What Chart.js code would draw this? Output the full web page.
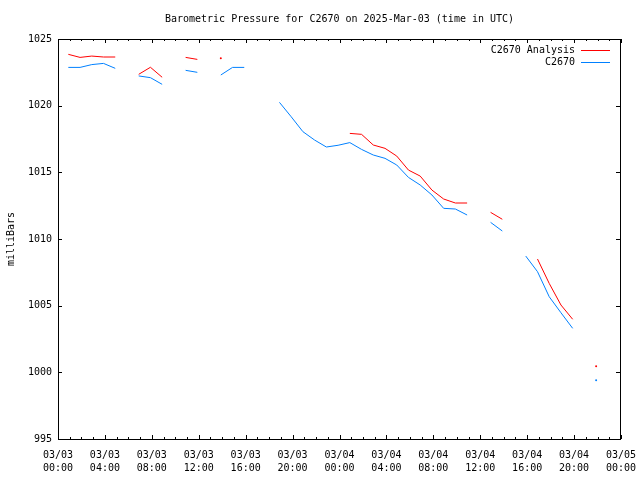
<!DOCTYPE html>
<html>
<head>
<meta charset="utf-8">
<title>Barometric Pressure C2670</title>
<script src="https://cdn.jsdelivr.net/npm/chart.js@4.4.1/dist/chart.umd.min.js"></script>
<style>
    html, body { margin: 0; padding: 0; background: #ffffff; }
    #wrap { width: 640px; height: 480px; }
</style>
</head>
<body>
<div id="wrap"><canvas id="chartPresion" width="640" height="480"></canvas></div>
<script>
// hours since 03/03 00:00 UTC (obs at hh:53)
const hours = [
    0.88, 1.88, 2.88, 3.88, 4.88, 5.88, 6.88, 7.88, 8.88, 9.88,
    10.88, 11.88, 12.88, 13.88, 14.88, 15.88, 16.88, 17.88, 18.88, 19.88,
    20.88, 21.88, 22.88, 23.88, 24.88, 25.88, 26.88, 27.88, 28.88, 29.88,
    30.88, 31.88, 32.88, 33.88, 34.88, 35.88, 36.88, 37.88, 38.88, 39.88,
    40.88, 41.88, 42.88, 43.88, 44.88, 45.88
];

const analysis = [
    1023.85, 1023.62, 1023.72, 1023.65, 1023.65, null, 1022.35, 1022.88, 1022.13, null,
    1023.62, 1023.47, null, 1023.55, null, null, null, null, null, null,
    null, null, null, null, 1017.92, 1017.85, 1017.05, 1016.8, 1016.22, 1015.17,
    1014.72, 1013.67, 1013.0, 1012.7, 1012.7, null, 1012.0, 1011.48, null, null,
    1008.5, 1006.67, 1005.05, 1003.98, null, 1000.45
];

const observed = [
    1022.87, 1022.87, 1023.08, 1023.17, 1022.8, null, 1022.23, 1022.1, 1021.6, null,
    1022.65, 1022.5, null, 1022.3, 1022.87, 1022.87, null, null, 1020.25, 1019.17,
    1018.05, 1017.42, 1016.9, 1017.03, 1017.23, 1016.72, 1016.3, 1016.05, 1015.55, 1014.62,
    1014.05, 1013.3, 1012.3, 1012.25, 1011.8, null, 1011.25, 1010.6, null, 1008.72,
    1007.55, 1005.67, 1004.47, 1003.3, null, 999.4
];

const xTicks = [0, 4, 8, 12, 16, 20, 24, 28, 32, 36, 40, 44, 48];
const yTicks = [995, 1000, 1005, 1010, 1015, 1020, 1025];

const FONT = 'DejaVu Sans Mono';
const RED = '#ff0000';
const BLUE = '#0080ff';

const toPoints = vals => vals.map((v, i) => ({ x: hours[i], y: v }));

// show a dot only where a value has no neighbours
function loneDot(ctx) {
    const d = ctx.dataset.data;
    const i = ctx.dataIndex;
    if (d[i].y == null) return 0;
    const prev = i > 0 ? d[i - 1].y : null;
    const next = i < d.length - 1 ? d[i + 1].y : null;
    return (prev == null && next == null) ? 1 : 0;
}

function tickLabel(v) {
    const day = 3 + Math.floor(v / 24);
    const hh = String(v % 24).padStart(2, '0');
    return ['03/0' + day, hh + ':00'];
}

const gnuFrame = {
    id: 'gnuFrame',
    afterDraw(chart) {
        const ctx = chart.ctx;
        const a = chart.chartArea;
        const xs = chart.scales.x;
        const ys = chart.scales.y;
        ctx.save();
        ctx.strokeStyle = '#000000';
        ctx.lineWidth = 1;
        ctx.strokeRect(a.left + 0.5, a.top + 0.5, a.right - a.left - 1, a.bottom - a.top);

        ctx.beginPath();
        for (let h = 0; h <= 48; h++) {
            const px = Math.round(xs.getPixelForValue(h)) + 0.5;
            const len = h % 4 === 0 ? 4 : 2;
            ctx.moveTo(px, a.bottom);
            ctx.lineTo(px, a.bottom - len);
            ctx.moveTo(px, a.top);
            ctx.lineTo(px, a.top + len);
        }
        yTicks.forEach(v => {
            const py = Math.round(ys.getPixelForValue(v)) + 0.5;
            ctx.moveTo(a.left, py);
            ctx.lineTo(a.left + 4, py);
            ctx.moveTo(a.right - 1, py);
            ctx.lineTo(a.right - 5, py);
        });
        ctx.stroke();

        // axis title
        ctx.fillStyle = '#000000';
        ctx.font = '10px ' + FONT;
        ctx.textAlign = 'center';
        ctx.textBaseline = 'middle';
        ctx.save();
        ctx.translate(11, (a.top + a.bottom) / 2);
        ctx.rotate(-Math.PI / 2);
        ctx.fillText('milliBars', 0, 0);
        ctx.restore();

        // legend, gnuplot style
        const rows = [
            { label: 'C2670 Analysis', color: RED, y: 50 },
            { label: 'C2670', color: BLUE, y: 62 }
        ];
        ctx.textAlign = 'right';
        rows.forEach(r => {
            ctx.fillStyle = '#000000';
            ctx.fillText(r.label, 575, r.y);
            ctx.strokeStyle = r.color;
            ctx.beginPath();
            ctx.moveTo(581, r.y + 0.5);
            ctx.lineTo(610, r.y + 0.5);
            ctx.stroke();
        });
        ctx.restore();
    }
};

document.addEventListener('DOMContentLoaded', () => {
    const ctx = document.getElementById('chartPresion').getContext('2d');

    new Chart(ctx, {
        type: 'line',
        data: {
            datasets: [
                {
                    label: 'C2670 Analysis',
                    data: toPoints(analysis),
                    borderColor: RED,
                    backgroundColor: RED,
                    borderWidth: 1,
                    pointRadius: loneDot,
                    pointHoverRadius: 0,
                    pointBorderWidth: 0,
                    spanGaps: false,
                    tension: 0
                },
                {
                    label: 'C2670',
                    data: toPoints(observed),
                    borderColor: BLUE,
                    backgroundColor: BLUE,
                    borderWidth: 1,
                    pointRadius: loneDot,
                    pointHoverRadius: 0,
                    pointBorderWidth: 0,
                    spanGaps: false,
                    tension: 0
                }
            ]
        },
        options: {
            responsive: false,
            animation: false,
            events: [],
            layout: { padding: { left: 0, right: 19, top: 0, bottom: 0 } },
            plugins: {
                legend: { display: false },
                tooltip: { enabled: false },
                title: {
                    display: true,
                    fullSize: false,
                    text: 'Barometric Pressure for C2670 on 2025-Mar-03 (time in UTC)',
                    color: '#000000',
                    font: { family: FONT, size: 10, weight: 'normal', lineHeight: 1.2 },
                    padding: { top: 13, bottom: 14 }
                }
            },
            scales: {
                x: {
                    type: 'linear',
                    min: 0,
                    max: 48,
                    afterBuildTicks: scale => { scale.ticks = xTicks.map(v => ({ value: v })); },
                    afterFit: scale => {
                        scale.height = 41;
                        scale.paddingLeft = 0;
                        scale.paddingRight = 0;
                    },
                    grid: { display: false, drawTicks: false },
                    border: { display: false },
                    ticks: {
                        color: '#000000',
                        font: { family: FONT, size: 10, lineHeight: 1.3 },
                        padding: 10,
                        maxRotation: 0,
                        autoSkip: false,
                        callback: v => tickLabel(v)
                    }
                },
                y: {
                    min: 995,
                    max: 1025,
                    afterBuildTicks: scale => { scale.ticks = yTicks.map(v => ({ value: v })); },
                    afterFit: scale => {
                        scale.width = 58;
                        scale.paddingTop = 0;
                        scale.paddingBottom = 0;
                    },
                    grid: { display: false, drawTicks: false },
                    border: { display: false },
                    ticks: {
                        color: '#000000',
                        font: { family: FONT, size: 10 },
                        padding: 6,
                        callback: v => String(v)
                    }
                }
            }
        },
        plugins: [gnuFrame]
    });
});
</script>
</body>
</html>
